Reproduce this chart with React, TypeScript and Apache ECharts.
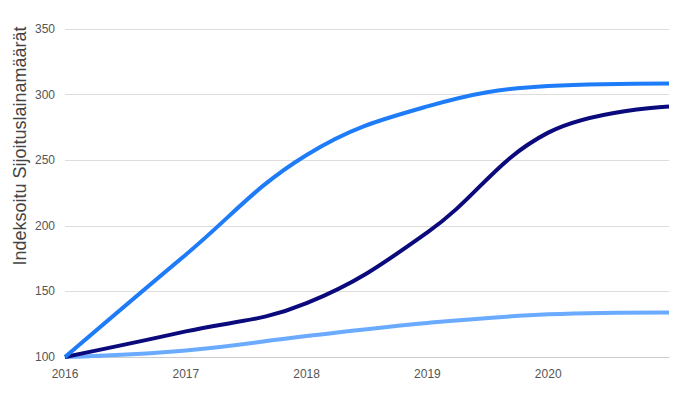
import React, { useEffect, useRef } from "react";
import * as echarts from "echarts";

const years = [2016, 2017, 2018, 2019, 2020, 2021];
const seriesBright = [100, 178, 254, 291, 306.5, 308.5];
const seriesNavy = [100, 119.5, 141, 195, 271, 291];
const seriesLight = [100, 105, 116, 126, 132.5, 134];
const yTicks = [100, 150, 200, 250, 300, 350];
const yTitle = "Indeksoitu Sijoituslainamäärät";

const pair = (vals: number[]) => vals.map((v, i) => [years[i], v]);

export default function App() {
  const ref = useRef<HTMLDivElement>(null);
  useEffect(() => {
    if (!ref.current) return;
    const chart = echarts.init(ref.current, null, { renderer: "svg" });
    const mk = (data: number[], color: string) => ({
      type: "line",
      data: pair(data),
      smooth: 0.4,
      showSymbol: false,
      symbol: "none",
      lineStyle: { color, width: 4 },
      itemStyle: { color },
    });
    chart.setOption({
      animation: false,
      backgroundColor: "#ffffff",
      grid: { left: 65, right: 31, top: 29, bottom: 37, containLabel: false },
      xAxis: {
        type: "value",
        min: 2016,
        max: 2021,
        interval: 1,
        axisLine: { show: true, lineStyle: { color: "#cccccc", width: 1 } },
        axisTick: { show: false },
        splitLine: { show: false },
        axisLabel: {
          color: "#555555",
          fontSize: 12,
          fontFamily: "Liberation Sans, Arial, sans-serif",
          margin: 11,
          formatter: (v: number) => (v >= 2021 ? "" : String(v)),
        },
      },
      yAxis: {
        type: "value",
        min: yTicks[0],
        max: yTicks[yTicks.length - 1],
        interval: 50,
        axisLine: { show: false },
        axisTick: { show: false },
        splitLine: { show: true, lineStyle: { color: "#dddddd", width: 1 } },
        axisLabel: {
          color: "#555555",
          fontSize: 12,
          fontFamily: "Liberation Sans, Arial, sans-serif",
          margin: 10,
        },
      },
      graphic: [
        {
          type: "text",
          x: 20,
          y: 146,
          rotation: Math.PI / 2,
          style: {
            text: yTitle,
            fill: "#444444",
            fontSize: 18,
            fontFamily: "Liberation Sans, Arial, sans-serif",
            textAlign: "center",
            textVerticalAlign: "middle",
          },
        },
      ],
      series: [
        mk(seriesLight, "#6aaaff"),
        mk(seriesNavy, "#0a0a7c"),
        mk(seriesBright, "#1e7cf8"),
      ],
    });
    return () => chart.dispose();
  }, []);
  return <div ref={ref} style={{ width: 700, height: 394, position: "fixed", left: 0, top: 0 }} />;
}
